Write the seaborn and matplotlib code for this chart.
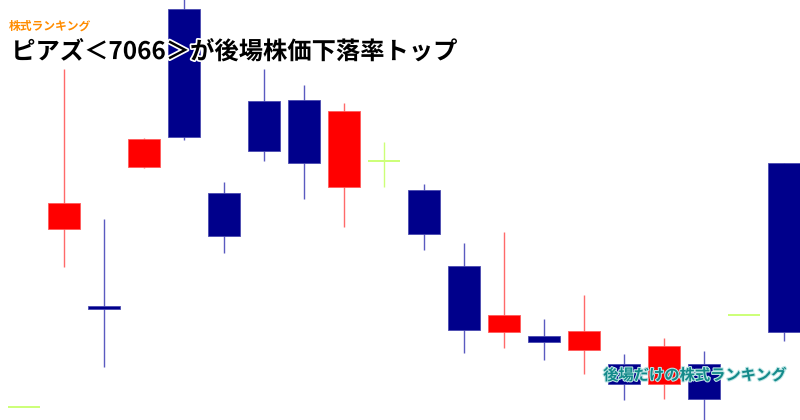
import numpy as np
import seaborn as sns
import matplotlib.pyplot as plt
import matplotlib.patheffects as pe

# daily prices (yen), one candle per session
opens = [1513, 1691, 1614, 1753, 1911, 1727, 1819, 1820, 1733, 1759,
         1730, 1654, 1588, 1584, 1570, 1556, 1536, 1556, 1605, 1757]
highs = [1513, 1851, 1701, 1782, 1925, 1738, 1851, 1835, 1817, 1778,
         1736, 1677, 1688, 1601, 1625, 1566, 1582, 1569, 1605, 1757]
lows = [1513, 1653, 1553, 1752, 1780, 1667, 1759, 1721, 1693, 1733,
        1670, 1567, 1572, 1560, 1546, 1520, 1521, 1495, 1605, 1579]
closes = [1513, 1717, 1611, 1781, 1783, 1684, 1769, 1757, 1809, 1759,
          1686, 1590, 1605, 1578, 1589, 1536, 1574, 1521, 1605, 1588]

title_small = "株式ランキング"
title_main = "ピアズ＜7066＞が後場株価下落率トップ"
footer = "後場だけの株式ランキング"

UP, DOWN, FLAT = "#ff0000", "#00008b", "#ccff77"
UP_WICK, DOWN_WICK = "#ff6a6a", "#5a5ac0"

sns.set_theme(style="white")
plt.rcParams['font.family'] = ['Noto Sans CJK JP', 'DejaVu Sans']

o, h, l, c = map(np.array, (opens, highs, lows, closes))
x = np.arange(len(o))

fig = plt.figure(figsize=(8, 4.2), dpi=100)
ax = fig.add_axes([0, 0, 1, 1])

up = c > o
down = c < o
flat = c == o

# wicks first so the bodies sit on top
ax.vlines(x[up], l[up], h[up], color=UP_WICK, lw=1.0, zorder=1)
ax.vlines(x[down], l[down], h[down], color=DOWN_WICK, lw=1.0, zorder=1)
ax.vlines(x[flat], l[flat], h[flat], color=FLAT, lw=1.0, zorder=1)

ax.bar(x[up], (c - o)[up], bottom=o[up], width=0.8, color=UP,
       edgecolor="#ff5a5a", lw=0.6, zorder=2)
ax.bar(x[down], (o - c)[down], bottom=c[down], width=0.8, color=DOWN,
       edgecolor="#4a4ab0", lw=0.6, zorder=2)
ax.hlines(c[flat], x[flat] - 0.4, x[flat] + 0.4, color=FLAT, lw=1.4,
          zorder=2)

ax.set_xlim(-0.6, len(x) - 0.6)
ax.set_ylim(1500, 1920)
ax.axis('off')

fig.text(0.011, 0.938, title_small, color="#ff8c00", fontsize=8.5,
         fontweight='bold', va='center', ha='left')
fig.text(0.014, 0.876, title_main, color="black", fontsize=17.5,
         fontweight='bold', va='center', ha='left',
         path_effects=[pe.withStroke(linewidth=2.5, foreground="white")])
fig.text(0.754, 0.107, footer, color="#138a8a", fontsize=11,
         fontweight='bold', va='center', ha='left',
         path_effects=[pe.withStroke(linewidth=1.5, foreground="#bfe6e6")])

fig.savefig("out.png", dpi=100, facecolor="white")
